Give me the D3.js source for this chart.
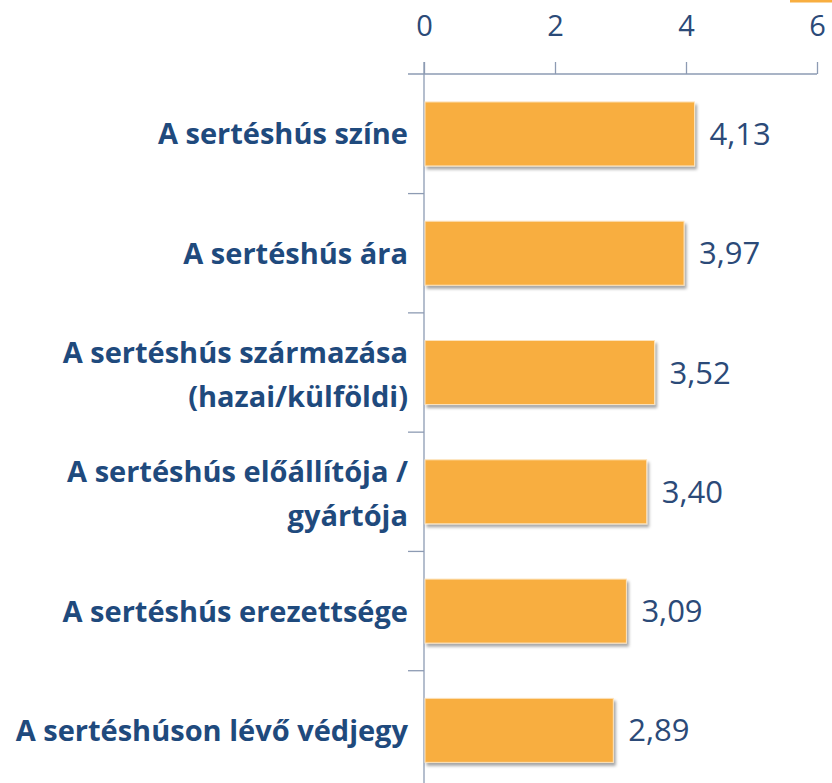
<!DOCTYPE html>
<html><head><meta charset="utf-8">
<script src="https://cdn.jsdelivr.net/npm/d3@7"></script>
<style>body{margin:0;background:#fff}svg{display:block}</style>
</head><body>
<svg id="c" width="832" height="783"></svg>
<script>
const categories = [
  "A sertéshús színe",
  "A sertéshús ára",
  "A sertéshús származása\n(hazai/külföldi)",
  "A sertéshús előállítója /\ngyártója",
  "A sertéshús erezettsége",
  "A sertéshúson lévő védjegy"
];
const values = [4.13, 3.97, 3.52, 3.40, 3.09, 2.89];
const valueLabels = ["4,13", "3,97", "3,52", "3,40", "3,09", "2,89"];
const xTicks = [0, 2, 4, 6];

const svg = d3.select("#c");
const W = 832, H = 783;
const x = d3.scaleLinear().domain([0, 6]).range([424, 817]);
const pIn = 0.4635;
const y = d3.scaleBand().domain(categories).range([74.3, 790]).paddingInner(pIn).paddingOuter(pIn / 2);

const defs = svg.append("defs");
const f = defs.append("filter").attr("id", "sh").attr("x", "-10%").attr("y", "-20%").attr("width", "130%").attr("height", "150%");
f.append("feDropShadow").attr("dx", 2).attr("dy", 3).attr("stdDeviation", 1.6).attr("flood-color", "#000").attr("flood-opacity", 0.35);

// legend swatch fragment at top right
svg.append("rect").attr("x", 790).attr("y", 0).attr("width", 42).attr("height", 2.5).attr("fill", "#f8ae40");

const axisCol = "#8d9bb3";
const numFont = "'Open Sans', sans-serif";
// top axis
const ax = svg.append("g").attr("transform", "translate(0,74)")
  .call(d3.axisTop(x).tickValues(xTicks).tickSize(12).tickSizeOuter(0).tickPadding(26).tickFormat(d3.format("d")));
ax.select(".domain").remove();
ax.selectAll(".tick line").attr("stroke", axisCol).attr("stroke-width", 1.3);
ax.selectAll(".tick text").attr("fill", "#2b4a78").attr("font-family", numFont).attr("font-size", 29);
svg.append("line").attr("x1", 408).attr("x2", x(6)).attr("y1", 74).attr("y2", 74).attr("stroke", axisCol).attr("stroke-width", 1.3);
svg.append("line").attr("x1", x(0)).attr("x2", x(0)).attr("y1", 62).attr("y2", H).attr("stroke", axisCol).attr("stroke-width", 1.3);

// category boundary ticks
const step = y.step();
svg.append("g").selectAll("line").data(categories).join("line")
  .attr("x1", 408).attr("x2", x(0))
  .attr("y1", d => y(d) + y.bandwidth() + step * pIn / 2)
  .attr("y2", d => y(d) + y.bandwidth() + step * pIn / 2)
  .attr("stroke", axisCol).attr("stroke-width", 1.3);

// bars
svg.append("g").selectAll("rect").data(categories).join("rect")
  .attr("x", x(0) + 1)
  .attr("y", d => y(d))
  .attr("width", (d, i) => x(values[i]) - x(0) - 1)
  .attr("height", y.bandwidth())
  .attr("fill", "#f8ae40")
  .attr("stroke", "#fde3bb").attr("stroke-width", 1)
  .attr("filter", "url(#sh)");

// value labels
svg.append("g").selectAll("text").data(categories).join("text")
  .attr("x", (d, i) => x(values[i]) + 15)
  .attr("y", d => y(d) + y.bandwidth() / 2 + 11)
  .attr("fill", "#2b4a78").attr("font-family", numFont).attr("font-size", 31)
  .text((d, i) => valueLabels[i]);

// category labels
const lh = 44;
const lg = svg.append("g");
categories.forEach(c => {
  const lines = c.split("\n");
  const cy = y(c) + y.bandwidth() / 2;
  const t = lg.append("text").attr("text-anchor", "end")
    .attr("fill", "#1f4a7d").attr("font-family", "'Open Sans', sans-serif")
    .attr("font-weight", "bold").attr("font-size", 29);
  lines.forEach((l, i) => {
    t.append("tspan").attr("x", 408)
      .attr("y", cy + 10.5 + (lines.length > 1 ? 2 : 0) - (lines.length - 1) * lh / 2 + i * lh)
      .text(l);
  });
});
</script>
</body></html>
